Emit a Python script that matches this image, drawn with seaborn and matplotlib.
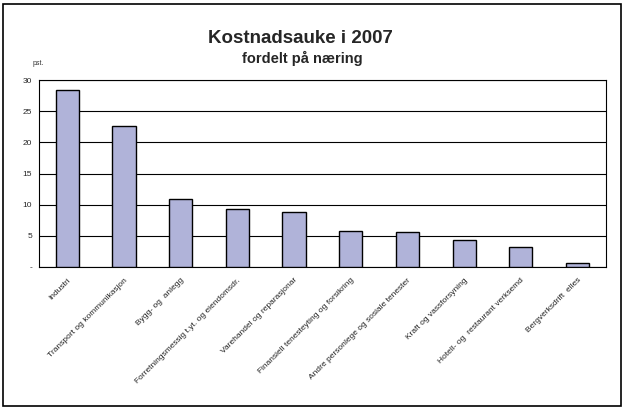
import matplotlib
matplotlib.use('Agg')
import matplotlib.pyplot as plt
import seaborn as sns
import pandas as pd
from matplotlib.patches import Rectangle

# Data
naeringar = ['Industri', 'Transport og kommunikasjon', 'Bygg- og  anlegg',
             'Forretningsmessig t.yt. og eiendomsdr.', 'Varehandel og reparasjonar',
             'Finansiell tenesteyting og forsikring', 'Andre personlege og sosiale tenester',
             'Kraft og vassforsyning', 'Hotell- og  restaurant verksemd', 'Bergverksdrift  elles']
kostnadsauke = [28.4, 22.6, 11.0, 9.4, 8.9, 5.8, 5.6, 4.4, 3.3, 0.6]
yticks = [0, 5, 10, 15, 20, 25, 30]
ytick_labels = ['-', '5', '10', '15', '20', '25', '30']

df = pd.DataFrame({'naering': naeringar, 'pst': kostnadsauke})

sns.set_style('white')
plt.rcParams['font.family'] = ['Liberation Sans', 'DejaVu Sans']

fig = plt.figure(figsize=(6.25, 4.09), dpi=100)
ax = fig.add_axes([0.0624, 0.347, 0.907, 0.457])

sns.barplot(data=df, x='naering', y='pst', color='#B0B3D9', saturation=1,
            width=0.41, edgecolor='black', linewidth=1.0, ax=ax, zorder=3)

ax.set_ylim(0, 30)
ax.set_xlim(-0.5, len(naeringar) - 0.5)
ax.set_yticks(yticks)
ax.set_yticklabels(ytick_labels, fontsize=6)
ax.yaxis.grid(True, color='black', linewidth=0.8)
ax.set_axisbelow(True)
ax.set_xlabel('')
ax.set_ylabel('')

# category labels, rotated like the original
ax.set_xticks(range(len(naeringar)))
ax.set_xticklabels(naeringar, rotation=45, ha='right', va='top',
                   rotation_mode='anchor', fontsize=6, color='#222222')
ax.tick_params(axis='x', length=0, pad=7)
ax.tick_params(axis='y', length=3, direction='out', color='black', pad=2)
# tick marks between categories
ax.set_xticks([i - 0.5 for i in range(len(naeringar) + 1)], minor=True)
ax.tick_params(axis='x', which='minor', length=3, direction='out', color='black', width=0.8)

for side in ['left', 'right', 'top', 'bottom']:
    ax.spines[side].set_visible(True)
    ax.spines[side].set_color('black')
    ax.spines[side].set_linewidth(0.8)

ax.text(-0.011, 1.07, 'pst.', transform=ax.transAxes, fontsize=5, ha='left', va='bottom',
        color='#333333')

fig.text(0.48, 0.905, 'Kostnadsauke i 2007', ha='center', va='center',
         fontsize=13.5, fontweight='bold')
fig.text(0.483, 0.858, 'fordelt på næring', ha='center', va='center',
         fontsize=10.5, fontweight='bold')

# frame around the whole chart
fig.patches.append(Rectangle((0.005, 0.007), 0.989, 0.983, transform=fig.transFigure,
                             fill=False, edgecolor='black', linewidth=1.2))

fig.savefig('out.png', dpi=100)
